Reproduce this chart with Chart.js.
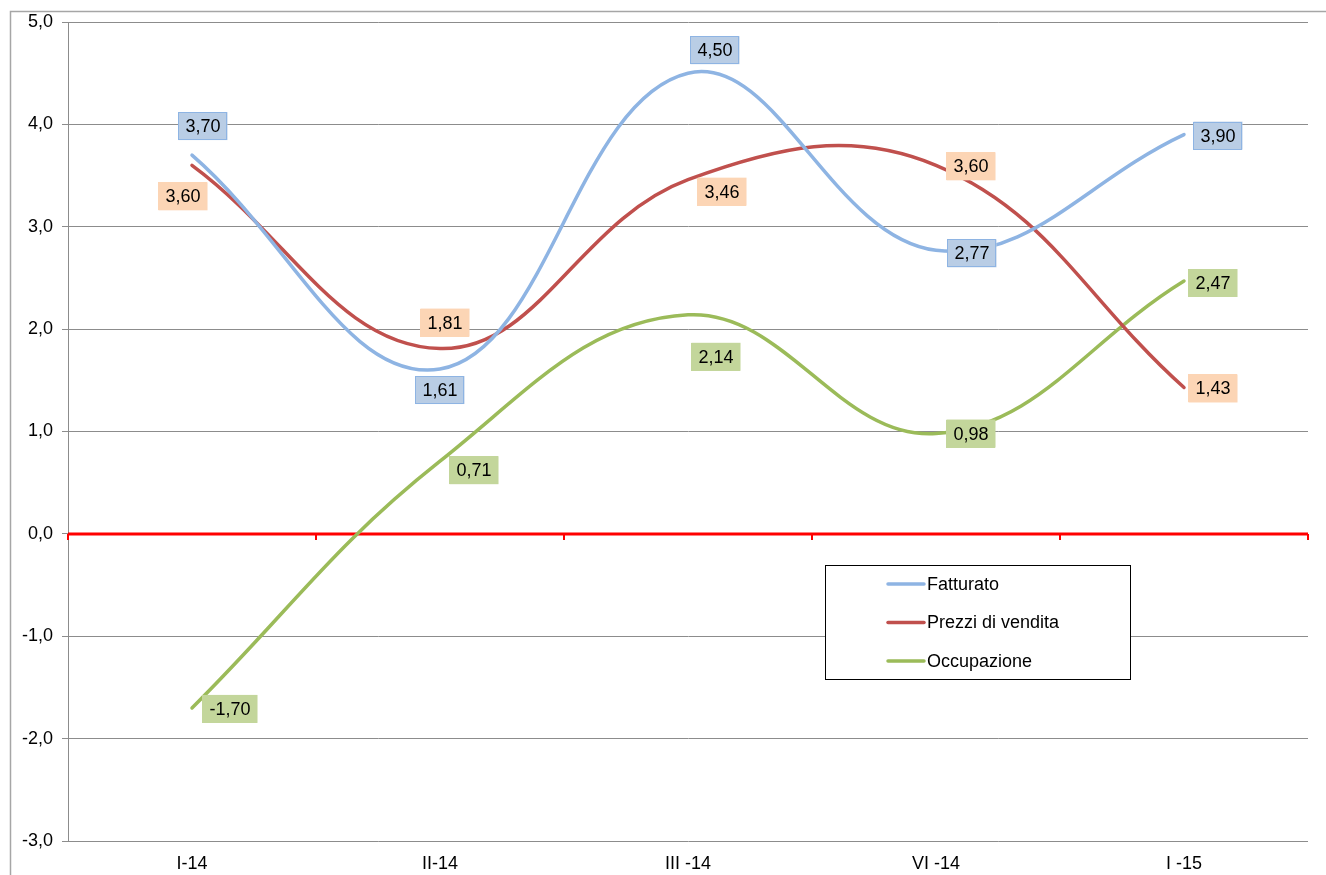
<!DOCTYPE html>
<html>
<head>
<meta charset="utf-8">
<script src="https://cdn.jsdelivr.net/npm/chart.js@4.4.1/dist/chart.umd.min.js"></script>
<style>
  html, body { margin: 0; padding: 0; background: #ffffff; }
  canvas { display: block; }
</style>
</head>
<body>
<canvas id="c" width="1326" height="875"></canvas>
<script>
// ---- data ----
const categories = ['I-14', 'II-14', 'III -14', 'VI -14', 'I -15'];
const seriesNames = ['Fatturato', 'Prezzi di vendita', 'Occupazione'];
const fatturato = [3.70, 1.61, 4.50, 2.77, 3.90];
const prezzi = [3.60, 1.81, 3.46, 3.60, 1.43];
const occupazione = [-1.70, 0.71, 2.14, 0.98, 2.47];
const yMin = -3, yMax = 5, yStep = 1;

// ---- styles ----
const lineColors = ['#8EB4E3', '#C0504D', '#9BBB59'];
const boxFill = ['#B9CDE5', '#FCD5B5', '#C3D69B'];
const boxBorder = ['#8EB4E3', '#FCD5B5', '#C3D69B'];
// label offsets (px) from each point
const labelOffsets = [
  [[11, -29], [0, 21], [27, -23], [36, 3], [34, 1]],
  [[-9, 31], [5, -26], [34, 12], [35, 1], [29, 1]],
  [[38, 1], [34, 9], [28, 42], [35, 0], [29, 2]]
];
const FONT = "'Liberation Sans', Arial, sans-serif";
const fmt = (v, d) => v.toFixed(d).replace('.', ',');

const framePlugin = {
  id: 'frame',
  beforeDraw(chart) {
    const ctx = chart.ctx;
    ctx.save();
    ctx.strokeStyle = '#A6A6A6';
    ctx.lineWidth = 1.5;
    ctx.beginPath();
    ctx.moveTo(10.5, chart.height);
    ctx.lineTo(10.5, 11.5);
    ctx.lineTo(chart.width, 11.5);
    ctx.stroke();
    ctx.restore();
  }
};

const zeroAxisPlugin = {
  id: 'zeroAxis',
  beforeDatasetsDraw(chart) {
    const ctx = chart.ctx, xs = chart.scales.x, ys = chart.scales.y, a = chart.chartArea;
    const y0 = ys.getPixelForValue(0);
    ctx.save();
    ctx.strokeStyle = '#FF0000';
    ctx.lineWidth = 3;
    ctx.beginPath();
    ctx.moveTo(a.left, y0);
    ctx.lineTo(a.right, y0);
    ctx.stroke();
    ctx.lineWidth = 2;
    const n = categories.length;
    const bounds = [a.left];
    for (let i = 1; i < n; i++) bounds.push((xs.getPixelForValue(i - 1) + xs.getPixelForValue(i)) / 2);
    bounds.push(a.right);
    ctx.beginPath();
    bounds.forEach(bx => { ctx.moveTo(bx, y0); ctx.lineTo(bx, y0 + 6); });
    ctx.stroke();
    ctx.restore();
  }
};

const labelPlugin = {
  id: 'boxLabels',
  afterDatasetsDraw(chart) {
    const ctx = chart.ctx;
    ctx.save();
    ctx.font = '18px ' + FONT;
    ctx.textAlign = 'center';
    ctx.textBaseline = 'middle';
    chart.data.datasets.forEach((ds, di) => {
      const meta = chart.getDatasetMeta(di);
      meta.data.forEach((pt, i) => {
        const txt = fmt(ds.data[i], 2);
        const [dx, dy] = labelOffsets[di][i];
        const cx = pt.x + dx, cy = pt.y + dy;
        const w = ctx.measureText(txt).width + 14, h = 28;
        ctx.fillStyle = boxFill[di];
        ctx.fillRect(cx - w / 2, cy - h / 2, w, h);
        ctx.strokeStyle = boxBorder[di];
        ctx.lineWidth = 1;
        ctx.strokeRect(Math.round(cx - w / 2) + 0.5, Math.round(cy - h / 2) + 0.5, Math.round(w) - 1, h - 1);
        ctx.fillStyle = '#000000';
        ctx.fillText(txt, cx, cy + 1);
      });
    });
    ctx.restore();
  }
};

const legendPlugin = {
  id: 'boxLegend',
  afterDraw(chart) {
    const ctx = chart.ctx;
    const bx = 825.5, by = 565.5, bw = 305, bh = 114;
    ctx.save();
    ctx.fillStyle = '#FFFFFF';
    ctx.fillRect(bx, by, bw, bh);
    ctx.strokeStyle = '#000000';
    ctx.lineWidth = 1;
    ctx.strokeRect(bx, by, bw, bh);
    ctx.font = '18px ' + FONT;
    ctx.textAlign = 'left';
    ctx.textBaseline = 'middle';
    chart.data.datasets.forEach((ds, i) => {
      const y = 584 + i * 38.5;
      ctx.strokeStyle = lineColors[i];
      ctx.lineWidth = 3.5;
      ctx.lineCap = 'round';
      ctx.beginPath();
      ctx.moveTo(888, y);
      ctx.lineTo(924, y);
      ctx.stroke();
      ctx.fillStyle = '#000000';
      ctx.fillText(ds.label, 927, y + 1);
    });
    ctx.restore();
  }
};

const seriesData = [fatturato, prezzi, occupazione];
new Chart(document.getElementById('c'), {
  type: 'line',
  data: {
    labels: categories,
    datasets: seriesNames.map((name, i) => ({
      label: name,
      data: seriesData[i],
      borderColor: lineColors[i],
      backgroundColor: lineColors[i],
      borderWidth: 3.5,
      borderCapStyle: 'round',
      pointRadius: 0,
      pointHoverRadius: 0,
      tension: 0.4,
      fill: false
    }))
  },
  options: {
    responsive: false,
    animation: false,
    devicePixelRatio: 1,
    layout: { padding: { top: 22, right: 18, bottom: 0, left: 0 } },
    plugins: {
      legend: { display: false },
      tooltip: { enabled: false },
      title: { display: false }
    },
    scales: {
      x: {
        type: 'category',
        offset: true,
        grid: { display: false, drawTicks: false },
        border: { display: false },
        ticks: { color: '#000000', font: { family: FONT, size: 18 }, padding: 12, maxRotation: 0 },
        afterFit(s) { s.height = 34; }
      },
      y: {
        min: yMin,
        max: yMax,
        ticks: {
          stepSize: yStep,
          color: '#000000',
          font: { family: FONT, size: 18 },
          padding: 9,
          callback: v => fmt(v, 1)
        },
        grid: {
          color: ctx => (ctx.tick && ctx.tick.value === 0) ? 'rgba(0,0,0,0)' : '#8C8C8C',
          lineWidth: 1,
          tickLength: 6,
          tickColor: '#8C8C8C',
          drawTicks: true
        },
        border: { display: true, color: '#8C8C8C', width: 1 },
        afterFit(s) { s.width = 68; }
      }
    }
  },
  plugins: [framePlugin, zeroAxisPlugin, labelPlugin, legendPlugin]
});
</script>
</body>
</html>
